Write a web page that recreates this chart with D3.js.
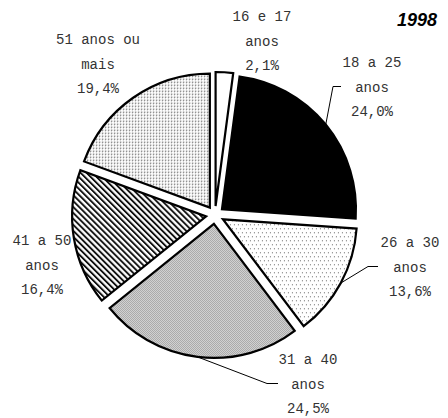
<!DOCTYPE html>
<html>
<head>
<meta charset="utf-8">
<script src="https://cdn.jsdelivr.net/npm/d3@7"></script>
<style>
  body { margin: 0; background: #fff; }
  svg text { font-family: "Liberation Mono", monospace; font-size: 14px; fill: #333; }
</style>
</head>
<body>
<svg id="chart"></svg>
<script>
// Chart data
const ages = ['16 e 17', '18 a 25', '26 a 30', '31 a 40', '41 a 50', '51 anos ou'];
const ageUnit = ['anos', 'anos', 'anos', 'anos', 'anos', 'mais'];
const shares = [2.1, 24.0, 13.6, 24.5, 16.4, 19.4];
const year = '1998';

// Layout / styling
const width = 448, height = 418;
const cx = 215, cy = 215, radius = 134, explode = 9;
const fills = ['#fff', '#000', 'url(#dots)', 'url(#checker)', 'url(#hatch)', 'url(#grid)'];
// label centre (first line) and optional leader line elbow
const labelAt = [[262, 16], [372, 62], [410, 242], [308, 359], [42, 240], [98, 39]];
const leaders = [null, [333, 341], [368, 378], [267, 278], null, null];
const lineGap = 24.5;

const svg = d3.select('#chart').attr('width', width).attr('height', height);
const defs = svg.append('defs');

// sparse dots (26 a 30)
const dots = defs.append('pattern').attr('id', 'dots').attr('patternUnits', 'userSpaceOnUse')
    .attr('width', 4).attr('height', 8);
dots.append('rect').attr('width', 4).attr('height', 8).attr('fill', '#fff');
dots.append('rect').attr('x', 1).attr('y', 1).attr('width', 1).attr('height', 1).attr('fill', '#666');
dots.append('rect').attr('x', 3).attr('y', 5).attr('width', 1).attr('height', 1).attr('fill', '#666');

// fine checker (31 a 40)
const checker = defs.append('pattern').attr('id', 'checker').attr('patternUnits', 'userSpaceOnUse')
    .attr('width', 2).attr('height', 2);
checker.append('rect').attr('width', 2).attr('height', 2).attr('fill', '#dadada');
checker.append('rect').attr('width', 1).attr('height', 1).attr('fill', '#a2a2a2');
checker.append('rect').attr('x', 1).attr('y', 1).attr('width', 1).attr('height', 1).attr('fill', '#a2a2a2');

// diagonal hatch (41 a 50)
const hatch = defs.append('pattern').attr('id', 'hatch').attr('patternUnits', 'userSpaceOnUse')
    .attr('width', 4.2).attr('height', 10).attr('patternTransform', 'rotate(-45)');
hatch.append('rect').attr('width', 4.2).attr('height', 10).attr('fill', '#fff');
hatch.append('rect').attr('width', 1.9).attr('height', 10).attr('fill', '#111');

// light grid (51 anos ou mais)
const grid = defs.append('pattern').attr('id', 'grid').attr('patternUnits', 'userSpaceOnUse')
    .attr('width', 3).attr('height', 3);
grid.append('rect').attr('width', 3).attr('height', 3).attr('fill', '#fff');
grid.append('rect').attr('width', 1).attr('height', 1).attr('fill', '#666');
grid.append('rect').attr('x', 1).attr('width', 1).attr('height', 1).attr('fill', '#bbb');
grid.append('rect').attr('y', 1).attr('width', 1).attr('height', 1).attr('fill', '#bbb');

const pie = d3.pie().sort(null).value(d => d);
const arcs = pie(shares);
const arc = d3.arc().innerRadius(0).outerRadius(radius);

const offset = d => {
    const a = (d.startAngle + d.endAngle) / 2;
    return [cx + explode * Math.sin(a), cy - explode * Math.cos(a)];
};

// Draw slices
svg.append('g')
    .selectAll('path')
    .data(arcs)
    .enter()
    .append('path')
    .attr('transform', d => `translate(${offset(d)})`)
    .attr('d', arc)
    .attr('fill', (d, i) => fills[i])
    .attr('stroke', '#000')
    .attr('stroke-width', 2.2)
    .attr('stroke-linejoin', 'miter');

// Leader lines
svg.append('g')
    .selectAll('polyline')
    .data(arcs.filter((d, i) => leaders[i]))
    .enter()
    .append('polyline')
    .attr('fill', 'none')
    .attr('stroke', '#000')
    .attr('stroke-width', 1)
    .attr('points', d => {
        const i = d.index;
        const [ox, oy] = offset(d);
        const a = (d.startAngle + d.endAngle) / 2;
        const sx = ox + radius * Math.sin(a), sy = oy - radius * Math.cos(a);
        const ly = labelAt[i][1] + lineGap;
        return [[sx, sy], [leaders[i][0], ly], [leaders[i][1], ly]].map(p => p.join(',')).join(' ');
    });

// Labels
const fmt = v => d3.format('.1f')(v).replace('.', ',') + '%';
const labels = svg.append('g')
    .selectAll('text')
    .data(arcs)
    .enter()
    .append('text')
    .attr('text-anchor', 'middle');
labels.each(function(d, i) {
    const t = d3.select(this);
    [ages[i], ageUnit[i], fmt(shares[i])].forEach((s, k) => {
        t.append('tspan')
            .attr('x', labelAt[i][0])
            .attr('y', labelAt[i][1] + k * lineGap + 5)
            .text(s);
    });
});

// Year
svg.append('text')
    .attr('x', 437).attr('y', 26)
    .attr('text-anchor', 'end')
    .style('font-family', '"Liberation Sans", Arial, sans-serif')
    .style('font-size', '18px')
    .style('font-weight', 'bold')
    .style('font-style', 'italic')
    .style('fill', '#000')
    .text(year);
</script>
</body>
</html>
